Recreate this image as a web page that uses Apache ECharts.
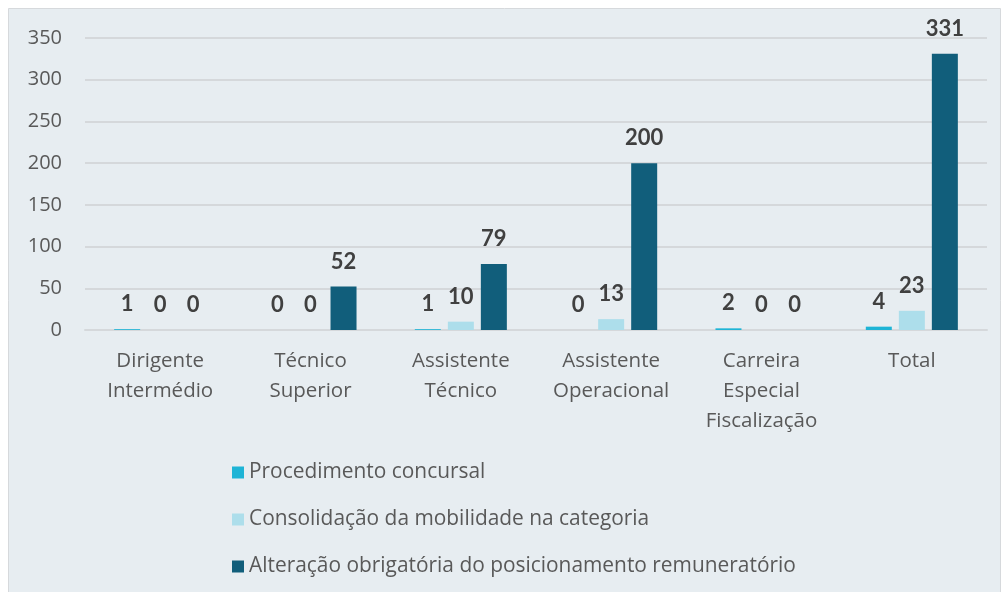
<!DOCTYPE html>
<html>
<head>
<meta charset="utf-8">
<script src="https://cdn.jsdelivr.net/npm/echarts@6/dist/echarts.min.js"></script>
<style>html,body{margin:0;padding:0;background:#fff;}#c{width:1003px;height:592px;}</style>
</head>
<body>
<div id="c"></div>
<script>
const categories = ["Dirigente\nIntermédio", "Técnico\nSuperior", "Assistente\nTécnico", "Assistente\nOperacional", "Carreira\nEspecial\nFiscalização", "Total"];
const seriesNames = ["Procedimento concursal", "Consolidação da mobilidade na categoria", "Alteração obrigatória do posicionamento remuneratório"];
const procedimento = [1, 0, 1, 0, 2, 4];
const consolidacao = [0, 0, 10, 13, 0, 23];
const alteracao = [0, 52, 79, 200, 0, 331];
const colors = ["#1EB4D6", "#ADDEEB", "#115E7B"];

const chart = echarts.init(document.getElementById('c'), null, {renderer: 'canvas'});
const font = 'Open Sans';
function mk(name, data, color) {
  return {
    name: name, type: 'bar', data: data, barWidth: 26, barGap: '27%',
    itemStyle: {color: color},
    label: {show: true, position: 'top', distance: 14, fontFamily: 'Lato', fontSize: 22, fontWeight: 'bold', color: '#404040'}
  };
}
chart.setOption({
  animation: false,
  graphic: [{type: 'rect', z: -10, shape: {x: 8.5, y: 8.5, width: 992, height: 590}, style: {fill: '#E7EDF1', stroke: '#D6D9DC', lineWidth: 1}}],
  grid: {left: 85, right: 16, top: 38, bottom: 262},
  legend: {
    orient: 'vertical', left: 227, top: 457, itemWidth: 12, itemHeight: 12, itemGap: 26,
    icon: 'rect', textStyle: {fontFamily: font, fontSize: 20.9, lineHeight: 21, color: '#595959'},
    data: seriesNames
  },
  xAxis: {
    type: 'category', data: categories,
    axisLine: {show: true, lineStyle: {color: '#D5D8DB', width: 2}},
    axisTick: {show: false},
    axisLabel: {interval: 0, margin: 16, fontFamily: font, fontSize: 20.5, color: '#595959', lineHeight: 30}
  },
  yAxis: {
    type: 'value', min: 0, max: 350, interval: 50,
    axisLine: {show: false}, axisTick: {show: false},
    splitLine: {lineStyle: {color: '#D5D8DB', width: 2}},
    axisLabel: {margin: 23, fontFamily: font, fontSize: 20, color: '#595959'}
  },
  series: [mk(seriesNames[0], procedimento, colors[0]), mk(seriesNames[1], consolidacao, colors[1]), mk(seriesNames[2], alteracao, colors[2])]
});
</script>
</body>
</html>
